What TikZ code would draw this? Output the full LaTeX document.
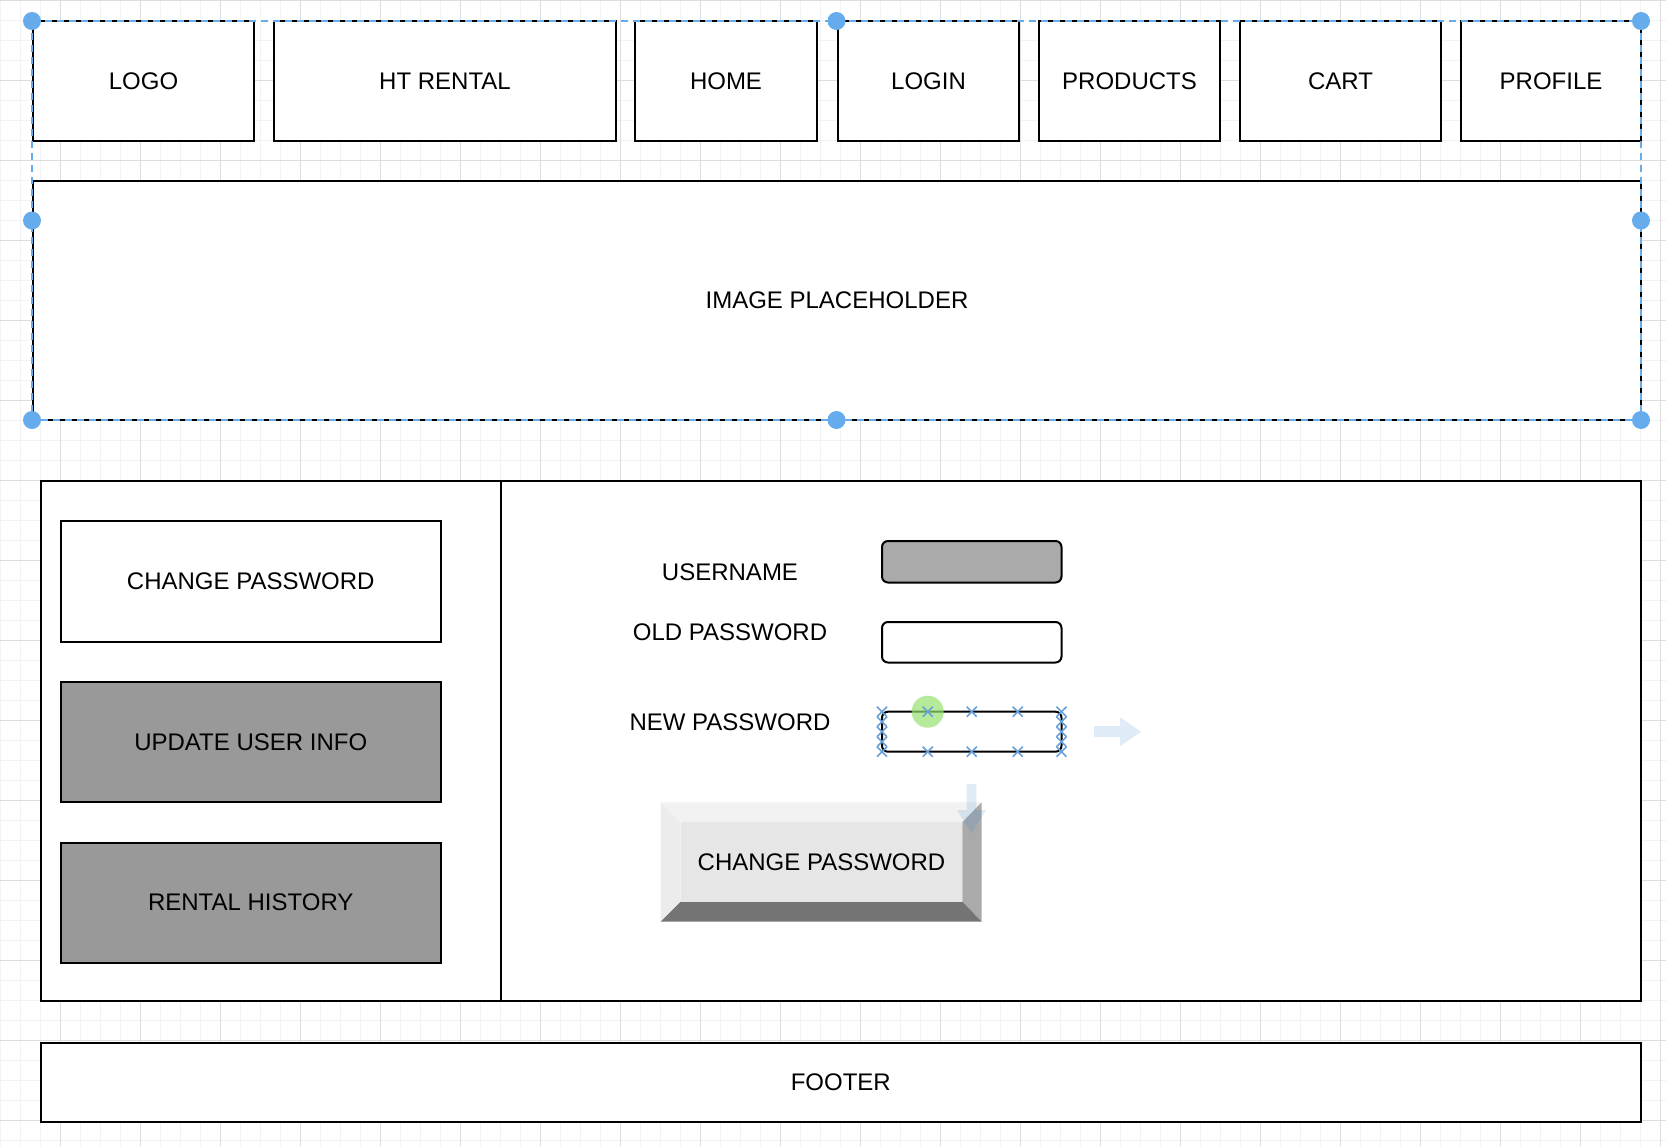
\documentclass[tikz,border=0pt]{standalone}
\usepackage{fontspec}
\setmainfont{Liberation Sans}
\usetikzlibrary{positioning}

\definecolor{selblue}{RGB}{102,172,236}
\definecolor{markblue}{RGB}{104,160,216}
\definecolor{gridminor}{RGB}{243,243,243}
\definecolor{gridmajor}{RGB}{221,221,221}
\definecolor{tabgray}{RGB}{153,153,153}
\definecolor{fieldgray}{RGB}{170,170,170}
\definecolor{hoverblue}{RGB}{41,128,210}
\definecolor{hovergreen}{RGB}{150,226,112}
\definecolor{bevtop}{RGB}{242,242,242}
\definecolor{bevleft}{RGB}{236,236,236}
\definecolor{bevface}{RGB}{230,230,230}
\definecolor{bevright}{RGB}{170,170,170}
\definecolor{bevbot}{RGB}{116,116,116}

\begin{document}
\begin{tikzpicture}[x=1pt, y=-1pt, font=\fontsize{24}{29}\selectfont,
    box/.style={draw=black, line width=2pt, fill=white},
    field/.style={draw=black, line width=2pt, rounded corners=6pt},
    seldash/.style={draw=selblue, line width=1.6pt, dash pattern=on 7pt off 5pt},
    xmark/.style={draw=markblue, line width=1.6pt},
    hover/.style={fill=hoverblue, opacity=.15}]
      \useasboundingbox (0,0) rectangle (1666,1146);
      % canvas grid
      \fill[white] (0,0) rectangle (1666,1146);
      \foreach \gx in {0,20,...,1660} \draw[gridminor, line width=1pt] (\gx,0) -- (\gx,1146);
      \foreach \gy in {0,20,...,1140} \draw[gridminor, line width=1pt] (0,\gy) -- (1666,\gy);
      \foreach \gx in {60,140,...,1660} \draw[gridmajor, line width=1pt] (\gx,0) -- (\gx,1146);
      \foreach \gy in {0,80,...,1120} \draw[gridmajor, line width=1pt] (0,\gy) -- (1666,\gy);
      % header
      \draw[box] (33, 21) rectangle (254, 141) node (logo) [pos=.5] {LOGO}
                 (274, 21) rectangle (616, 141) node (title) [pos=.5] {HT RENTAL}
                 (635, 21) rectangle (817, 141) node (home) [pos=.5] {HOME}
                 (838, 21) rectangle (1019, 141) node (login) [pos=.5] {LOGIN}
                 (1039, 21) rectangle (1220, 141) node (products) [pos=.5] {PRODUCTS}
                 (1240, 21) rectangle (1441, 141) node (cart) [pos=.5] {CART}
                 (1461, 21) rectangle (1641, 141) node (profile) [pos=.5] {PROFILE}
                 (33, 181) rectangle (1641, 420) node (banner) [pos=.5] {IMAGE PLACEHOLDER};
      % selection
      \draw[seldash] (32, 21) rectangle (1641, 420);
      \foreach \dx/\dy in {32/21, 836.5/21, 1641/21, 32/220.5, 1641/220.5, 32/420, 836.5/420, 1641/420}
        \fill[selblue] (\dx, \dy) circle[radius=9pt];
      % account panel
      \draw[box] (40.5, 481) rectangle (1641, 1001);
      \draw[line width=2pt] (500.5, 481) -- (500.5, 1001);
      \draw[box] (60.5, 521) rectangle (441, 642) node (pwtab) [pos=.5] {CHANGE PASSWORD};
      \draw[box, fill=tabgray] (60.5, 682) rectangle (441, 802) node (infotab) [pos=.5] {UPDATE USER INFO}
                               (60.5, 842.5) rectangle (441, 962.5) node (histtab) [pos=.5] {RENTAL HISTORY};
      \node (userlbl) at (730, 572) {USERNAME};
      \node (oldlbl) at (730, 632) {OLD PASSWORD};
      \node (newlbl) at (730, 722.5) {NEW PASSWORD};
      \draw[field, fill=fieldgray] (882, 541) rectangle (1061.5, 582.5);
      \draw[field, fill=white] (882, 622) rectangle (1061.5, 662.5);
      \draw[field, fill=white] (882, 711.7) rectangle (1061.5, 751.7);
      % button
      \fill[bevtop] (660.7, 802.3) -- (981.7, 802.3) -- (962.3, 822.3) -- (680.7, 822.3) -- cycle;
      \fill[bevleft] (660.7, 802.3) -- (680.7, 822.3) -- (680.7, 901.7) -- (660.7, 921.7) -- cycle;
      \fill[bevright] (981.7, 802.3) -- (981.7, 921.7) -- (962.3, 901.7) -- (962.3, 822.3) -- cycle;
      \fill[bevbot] (660.7, 921.7) -- (981.7, 921.7) -- (962.3, 901.7) -- (680.7, 901.7) -- cycle;
      \fill[bevface] (680.7, 822.3) rectangle (962.3, 901.7) node (submit) [pos=.5, text=black] {CHANGE PASSWORD};
      % hover marks on new password field
      \fill[hovergreen, opacity=.7] (927.7, 711.7) circle[radius=16pt];
      \foreach \mx in {927.7, 971.7, 1017.7}
        \foreach \my in {711.7, 751.7}
          \draw[xmark] (\mx, \my) ++(-5, -5) -- ++(10, 10) ++(-10, 0) -- ++(10, -10);
      \foreach \mx in {882, 1061.5}
        \foreach \my in {711.7, 721.7, 731.7, 741.7, 751.7}
          \draw[xmark] (\mx, \my) ++(-5, -5) -- ++(10, 10) ++(-10, 0) -- ++(10, -10);
      \fill[hover] (1094, 726) -- (1120, 726) -- (1120, 717.3) -- (1141, 731.7) -- (1120, 746)
                   -- (1120, 737) -- (1094, 737) -- cycle;
      \fill[hover] (966.7, 784) -- (976.3, 784) -- (976.3, 810) -- (986, 810) -- (971.5, 833.3)
                   -- (957, 810) -- (966.7, 810) -- cycle;
      % footer
      \draw[box] (40.5, 1042.5) rectangle (1641, 1122) node (footer) [pos=.5] {FOOTER};
\end{tikzpicture}
\end{document}
